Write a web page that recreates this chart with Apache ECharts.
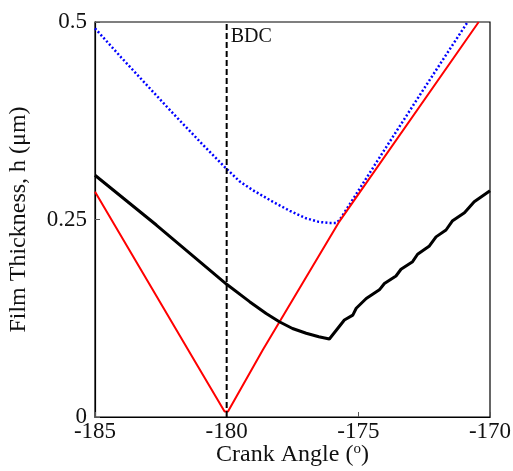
<!DOCTYPE html>
<html>
<head>
<meta charset="utf-8">
<script src="https://cdn.jsdelivr.net/npm/echarts@6/dist/echarts.min.js"></script>
<style>html,body{margin:0;padding:0;background:#fff;}#c{width:513px;height:471px;}</style>
</head>
<body>
<div id="c"></div>
<script>
// Data
const xTicks = [-185, -180, -175, -170];
const yTicks = [0, 0.25, 0.5];
const redX = [-185, -181.09, -180.08, -179.95, -178.63, -175.75, -170.43];
const redY = [0.285, 0.064, 0.007, 0.007, 0.0848, 0.246, 0.5];
const blueX = [-185, -184, -183, -182, -181, -180, -179.5, -179, -178.25, -177.6, -176.98, -176.5, -176.1, -175.85, -175.72, -175.34, -174.07, -172.5, -170.85];
const blueY = [0.492, 0.455, 0.419, 0.383, 0.348, 0.314, 0.298, 0.287, 0.2725, 0.261, 0.2515, 0.247, 0.2455, 0.2455, 0.249, 0.2686, 0.335, 0.416, 0.5];
const blackX = [-185, -182.67, -180, -179.13, -178.5, -178, -177.5, -176.98, -176.5, -176.1,
  -175.53, -175.21, -175.08, -174.7, -174.2, -174.01, -173.57, -173.38, -172.94, -172.75, -172.3, -172.05, -171.67, -171.42, -170.97, -170.6, -170];
const blackY = [0.306, 0.243, 0.168, 0.146, 0.131, 0.1206, 0.112, 0.106, 0.1015, 0.0987,
  0.1228, 0.129, 0.1376, 0.150, 0.161, 0.169, 0.1785, 0.187, 0.1966, 0.206, 0.2165, 0.228, 0.2367, 0.2485, 0.2586, 0.2725, 0.2865];
const bdcX = -180;
const bdcY = [0, 0.5];
const bdcLabel = 'BDC';

const zip = (xs, ys) => xs.map((x, i) => [x, ys[i]]);
const font = 'Liberation Serif';

const chart = echarts.init(document.getElementById('c'));
chart.setOption({
  animation: false,
  backgroundColor: '#fff',
  grid: { left: 95, top: 22, width: 395, height: 395, containLabel: false, outerBoundsMode: 'none',
    show: true, borderColor: '#000', borderWidth: 1.2, backgroundColor: 'transparent' },
  xAxis: {
    type: 'value', min: xTicks[0], max: xTicks[xTicks.length - 1], interval: 5,
    axisLine: { lineStyle: { color: '#000', width: 1.2 } },
    axisTick: { inside: true, length: 5, lineStyle: { color: '#555' } },
    splitLine: { show: false },
    axisLabel: { color: '#111', fontFamily: font, fontSize: 23, margin: 3 },
    name: 'Crank Angle ({sup|o})', nameLocation: 'middle', nameGap: 25, nameMoveOverlap: false,
    nameTextStyle: { color: '#111', fontFamily: font, fontSize: 24,
      rich: { sup: { fontFamily: font, fontSize: 15, color: '#111', padding: [0, 0, 10, 0] } } }
  },
  yAxis: {
    type: 'value', min: yTicks[0], max: yTicks[yTicks.length - 1], interval: 0.25,
    axisLine: { lineStyle: { color: '#000', width: 1.2 } },
    axisTick: { inside: true, length: 5, lineStyle: { color: '#555' } },
    splitLine: { show: false },
    axisLabel: { color: '#111', fontFamily: font, fontSize: 23, margin: 8 },
    name: 'Film Thickness, h (μm)', nameLocation: 'middle', nameGap: 64, nameRotate: 90, nameMoveOverlap: false,
    nameTextStyle: { color: '#111', fontFamily: font, fontSize: 24 }
  },
  series: [
    { type: 'line', data: zip(blueX, blueY), showSymbol: false, symbol: 'none',
      lineStyle: { color: '#0000ff', width: 2.5, type: [2, 2.2] } },
    { type: 'line', data: zip(redX, redY), showSymbol: false, symbol: 'none',
      lineStyle: { color: '#ff0000', width: 2 } },
    { type: 'line', data: zip(blackX, blackY), showSymbol: false, symbol: 'none',
      lineStyle: { color: '#000', width: 3 } },
    { type: 'line', symbol: 'none', showSymbol: false,
      data: [[bdcX, bdcY[0]], [bdcX, bdcY[1]]],
      endLabel: { show: true, formatter: bdcLabel, offset: [-4, 15], color: '#111', fontFamily: font, fontSize: 20 },
      lineStyle: { color: '#000', width: 2, type: [6, 3] } }
  ]
});
</script>
</body>
</html>
